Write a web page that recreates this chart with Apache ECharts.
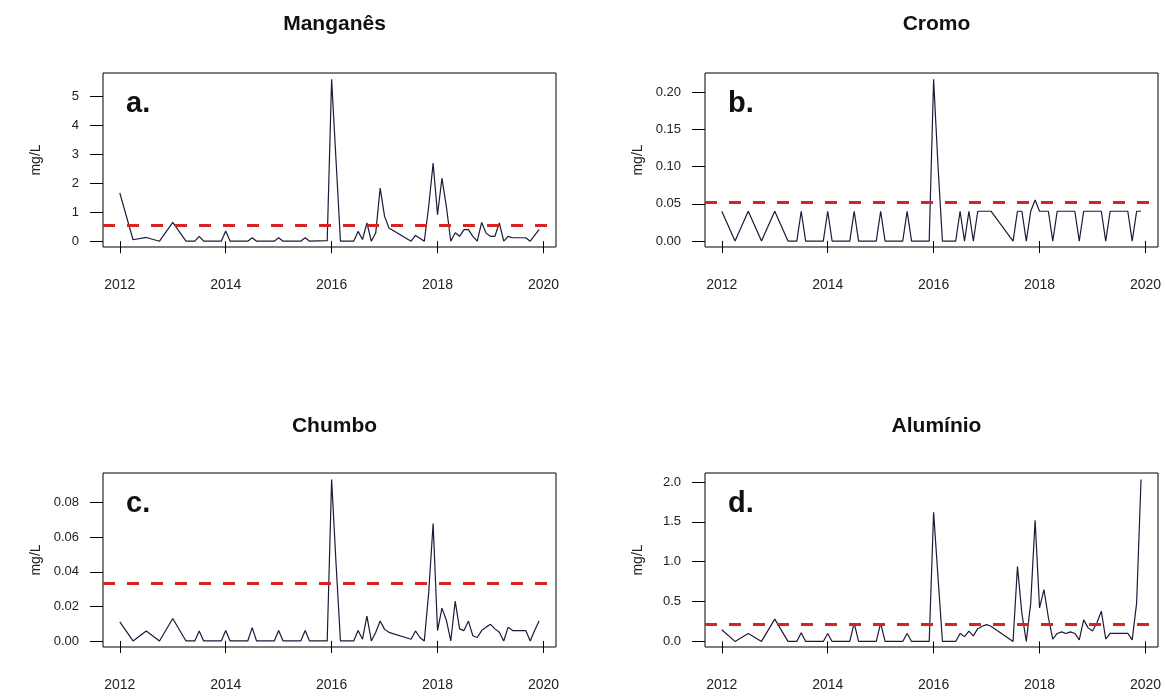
<!DOCTYPE html>
<html><head><meta charset="utf-8">
<script src="https://cdn.jsdelivr.net/npm/echarts@6/dist/echarts.min.js"></script>
<style>html,body{margin:0;padding:0;background:#fff}#c{width:1166px;height:698px}</style>
</head><body><div id="c"></div>
<script>
// sampling dates (year-month)
const dates = [
 '2012-01','2012-04','2012-07','2012-10',
 '2013-01','2013-04','2013-06','2013-07','2013-08','2013-12',
 '2014-01','2014-02','2014-06','2014-07','2014-08','2014-12',
 '2015-01','2015-02','2015-06','2015-07','2015-08','2015-12',
 '2016-01','2016-02','2016-03','2016-04','2016-05','2016-06','2016-07','2016-08','2016-09','2016-10','2016-11','2016-12',
 '2017-01','2017-02','2017-07','2017-08','2017-09','2017-10','2017-11','2017-12',
 '2018-01','2018-02','2018-03','2018-04','2018-05','2018-06','2018-07','2018-08','2018-09','2018-10','2018-11','2018-12',
 '2019-01','2019-02','2019-03','2019-04','2019-05','2019-06','2019-07','2019-08','2019-09','2019-10','2019-11','2019-12'
];
const manganes = [
 1.67,0.05,0.13,0.0,
 0.65,0.0,0.0,0.17,0.0,0.0,
 0.35,0.0,0.0,0.12,0.0,0.0,
 0.12,0.0,0.0,0.12,0.0,0.02,
 5.6,2.8,0.0,0.0,0.0,0.0,0.34,0.06,0.63,0.0,0.29,1.84,
 0.86,0.46,0.0,0.2,0.1,0.0,1.2,2.7,
 0.92,2.18,1.2,0.0,0.29,0.17,0.4,0.4,0.17,0.0,0.65,0.28,
 0.17,0.17,0.63,0.0,0.17,0.12,0.12,0.12,0.12,0.0,0.2,0.4
];
const cromo = [
 0.04,0,0.04,0,
 0.04,0,0,0.04,0,0,
 0.04,0,0,0.04,0,0,
 0.04,0,0,0.04,0,0,
 0.217,0.1,0,0,0,0,0.04,0,0.04,0,0.04,0.04,
 0.04,0.04,0,0.04,0.04,0,0.04,0.055,
 0.04,0.04,0.04,0,0.04,0.04,0.04,0.04,0.04,0,0.04,0.04,
 0.04,0.04,0.04,0,0.04,0.04,0.04,0.04,0.04,0,0.04,0.04
];
const chumbo = [
 0.011,0,0.0058,0,
 0.013,0,0,0.0058,0,0,
 0.006,0,0,0.0077,0,0,
 0.006,0,0,0.006,0,0,
 0.0934,0.045,0,0,0,0,0.006,0.001,0.0144,0,0.005,0.0115,
 0.0067,0.005,0.001,0.0058,0.002,0,0.028,0.068,
 0.006,0.019,0.012,0,0.023,0.007,0.006,0.0115,0.003,0.002,0.006,0.008,
 0.0096,0.007,0.005,0,0.008,0.006,0.006,0.006,0.006,0,0.006,0.0115
];
const aluminio = [
 0.146,0,0.1,0,
 0.28,0,0,0.11,0,0,
 0.1,0,0,0.23,0,0,
 0.23,0,0,0.1,0,0,
 1.62,0.8,0,0,0,0,0.1,0.06,0.13,0.07,0.16,0.19,
 0.21,0.19,0,0.94,0.35,0,0.48,1.52,
 0.42,0.65,0.3,0.03,0.1,0.12,0.1,0.12,0.1,0.02,0.27,0.17,
 0.13,0.23,0.38,0.03,0.1,0.1,0.1,0.1,0.1,0.02,0.48,2.03
];
const titles = ['Manganês','Cromo','Chumbo','Alumínio'];
const letters = ['a.','b.','c.','d.'];
const limits = [0.56, 0.0525, 0.0335, 0.21];
const xTicks = [2012,2014,2016,2018,2020];
const yTicks = [[0,1,2,3,4,5],[0,0.05,0.10,0.15,0.20],[0,0.02,0.04,0.06,0.08],[0,0.5,1.0,1.5,2.0]];
const yDecimals = [0,2,2,1];
const yRanges = [[-0.2,5.82],[-0.008,0.2255],[-0.0035,0.0972],[-0.07,2.1125]];
const seriesValues = [manganes, cromo, chumbo, aluminio];

const FONT = 'Liberation Sans, Arial, sans-serif';
const pos = [[103,73],[705,73],[103,473],[705,473]];
const GW = 453, GH = 174;
function dec(d){ const p = d.split('-'); return +p[0] + (+p[1]-1)/12; }

const grid = [], xAxis = [], yAxis = [], series = [], title = [], graphic = [];
for (let i = 0; i < 4; i++) {
  const [l, t] = pos[i];
  grid.push({left:l, top:t, width:GW, height:GH, show:true, borderColor:'#000', borderWidth:1, backgroundColor:'#fff'});
  xAxis.push({type:'value', gridIndex:i, min:2011.683, max:2020.237,
    axisLine:{show:false}, splitLine:{show:false},
    axisTick:{show:true, length:12, lineStyle:{color:'#000', width:1}, customValues:xTicks},
    axisLabel:{customValues:xTicks, fontSize:14, color:'#222', fontFamily:FONT, margin:31, formatter:v=>String(Math.round(v))}
  });
  yAxis.push({type:'value', gridIndex:i, min:yRanges[i][0], max:yRanges[i][1],
    name:'mg/L', nameLocation:'middle', nameRotate:90, nameGap:60,
    nameTextStyle:{fontSize:14, color:'#222', fontFamily:FONT},
    axisLine:{show:false}, splitLine:{show:false},
    axisTick:{show:true, length:13, lineStyle:{color:'#000', width:1}, customValues:yTicks[i]},
    axisLabel:{customValues:yTicks[i], fontSize:13, color:'#222', fontFamily:FONT, margin:24,
      formatter:v=>Number(v).toFixed(yDecimals[i])}
  });
  series.push({type:'line', xAxisIndex:i, yAxisIndex:i, showSymbol:false, symbol:'none',
    data: dates.map((d,k)=>[dec(d), seriesValues[i][k]]),
    lineStyle:{color:'#1a1a3a', width:1.2}, animation:false, z:3,
    markLine:{silent:true, precision:5, symbol:['none','none'], label:{show:false}, animation:false,
      lineStyle:{color:'#d42424', width:3, type:[12,12]},
      data:[{yAxis:limits[i]}]}
  });
  title.push({text:titles[i], left:l+GW/2, top:(i<2?9:411), textAlign:'center',
    textStyle:{fontSize:21, fontWeight:'bold', color:'#111', fontFamily:FONT}});
  graphic.push({type:'text', left:l+23, top:t+16, z:10,
    style:{text:letters[i], font:'bold 29px '+FONT, fill:'#111'}});
}

const chart = echarts.init(document.getElementById('c'), null, {renderer:'canvas'});
chart.setOption({backgroundColor:'#fff', animation:false, title, grid, xAxis, yAxis, series, graphic});
</script></body></html>
